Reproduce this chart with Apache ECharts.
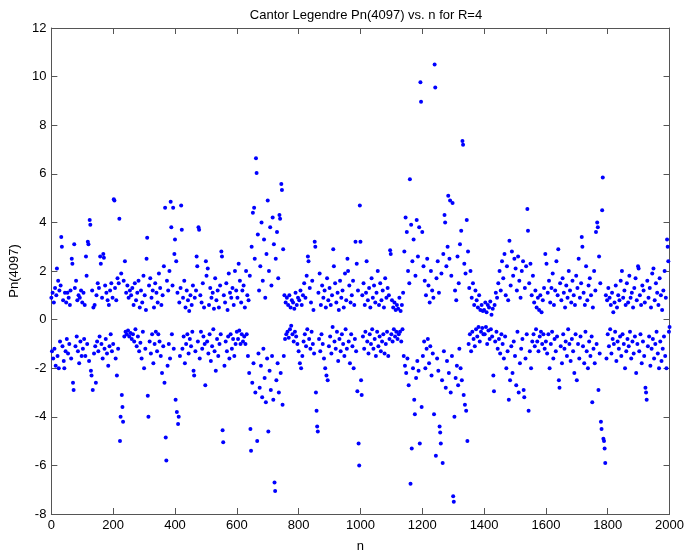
<!DOCTYPE html>
<html>
<head>
<meta charset="utf-8">
<script src="https://cdn.jsdelivr.net/npm/echarts@6/dist/echarts.min.js"></script>
<style>
  html, body { margin: 0; padding: 0; background: #fff; }
  #chart { width: 687px; height: 558px; }
</style>
</head>
<body>
<div id="chart"></div>
<script>
// Pn(4097) sampled every second n, stored in blocks of 200 n each
const blockStart = [0, 200, 400, 600, 800, 1000, 1200, 1400, 1600, 1800];
const nStep = 2;

const pnBlock0 = [
  0.9, -1.3, 1.1, -1.6, 0.7, -1.2, 1.3, -1.9, 1.0, 2.1,
  -1.5, 1.6, -2.0, 1.2, -0.9, 1.4, 3.4, 3.0, -1.1, 0.8,
  -1.7, -2.0, 1.1, -1.3, 0.7, -0.8, 1.1, -1.4, 0.9, -1.0,
  0.6, 1.2, -1.6, 2.5, 2.3, -2.6, -2.9, 3.1, 1.3, -1.1,
  1.6, -0.7, 0.8, -1.3, 1.0, -1.8, 0.9, -0.9, 1.2, -1.5,
  0.7, -1.2, 1.1, -0.8, 0.6, -1.5, 2.6, 1.8, -1.0, 3.2,
  3.1, -1.7, 4.1, 3.9, -2.1, -2.3, 1.2, -2.9, 0.5, -1.4,
  0.6, -1.1, -2.6, 1.0, -0.9, 1.5, -1.3, 1.3, -0.7, 2.6,
  2.3, -1.0, 0.9, -1.6, 2.7, 2.55, -1.2, 1.4, -0.8, 1.1,
  -1.4, 0.8, -1.9, 0.6, -1.1, 1.2, -0.6, 1.5, -1.3, 0.9
];
const pnBlock1 = [
  -1.0, 4.95, 4.9, 1.3, -1.6, 0.8, -2.3, 1.7, -1.2, 1.5,
  4.15, -5.0, -4.0, 1.9, -3.1, -3.6, -4.2, 1.6, -0.7, 2.4,
  -0.5, 1.1, -0.6, 1.4, -0.45, 0.9, -0.7, 1.2, -0.55, 1.0,
  -0.8, 1.3, -0.6, 0.6, -0.9, 1.5, -0.4, 0.8, -1.1, 1.1,
  -0.7, 1.6, -1.3, 0.5, -0.95, 1.2, -1.6, 0.7, -0.5, 1.8,
  -2.0, 1.0, -1.2, 0.4, 2.5, 3.37, -3.13, -4.0, 1.4, -0.9,
  1.7, -1.4, 0.9, -0.6, 1.2, -1.8, 0.5, -1.0, 1.5, -0.5,
  1.1, -1.3, 0.7, -0.6, 1.9, -0.9, 1.3, -1.5, 0.6, -2.2,
  1.0, -1.1, 2.2, -2.6, 4.6, -4.85, -5.8, 1.6, -1.9, 1.2,
  -1.0, 2.0, -1.6, 4.85, 3.8, -0.6, 1.4, 4.6, -1.2, 2.7
];
const pnBlock2 = [
  3.3, -3.3, 2.4, -3.8, 1.1, -4.3, -4.0, 0.7, -1.5, 1.3,
  4.7, 3.7, -1.2, 0.9, -0.7, 1.6, -1.8, 0.5, -1.0, 1.2,
  -0.6, 0.8, -1.4, 0.35, -0.8, 1.0, -1.1, 0.6, -0.5, 1.4,
  -2.1, -2.3, 0.9, -1.3, 1.2, 2.6, 2.2, -0.9, 3.8, 3.7,
  -1.6, 1.0, -0.5, 0.7, -1.2, 1.5, -0.7, 0.5, -1.0, -2.7,
  2.4, 1.8, -0.9, 2.1, -1.4, 0.6, -0.6, 1.3, -1.7, 0.9,
  -1.1, 1.1, -0.4, 0.45, -1.3, 1.7, -2.1, 0.8, -0.8, 1.2,
  -1.5, 0.5, -1.0, 1.4, -0.6, 2.8, 2.6, -4.55, -5.05, 1.0,
  -1.9, 0.7, -0.9, 1.5, -1.3, 0.4, -0.7, 1.9, -1.6, 1.1,
  -0.6, 0.9, -1.2, 1.3, -0.8, 0.6, -1.5, 2.0, -1.0, 1.2
];
const pnBlock3 = [
  -0.5, 0.9, -0.8, 2.3, -0.45, 1.6, -1.0, 0.7, -0.6, 1.2,
  -0.9, 1.4, -0.7, 0.5, -1.0, 2.0, -0.6, 1.0, -1.5, 0.8,
  -2.2, 1.8, -4.5, -5.4, 3.0, -2.6, 4.4, -1.8, 4.6, 2.5,
  -3.0, 6.64, 6.03, -5.0, 3.5, -1.4, 1.2, -2.8, 2.2, -1.9,
  4.0, -3.2, 1.6, -1.2, 3.3, -2.4, 0.9, -3.4, 2.7, -1.6,
  4.9, -4.6, 2.0, -2.1, 3.8, -2.9, 1.4, -1.5, 4.2, -3.3,
  3.1, -6.7, -7.05, 2.5, -2.5, 3.6, -1.8, 1.7, -3.0, 4.3,
  4.15, -2.2, 5.58, 5.33, -3.5, 2.9, -1.5, 1.0, -0.8, 0.7,
  -0.6, 0.9, -0.5, 0.6, -0.75, 1.0, -0.4, 0.5, -0.25, 0.8,
  -0.6, 0.7, -0.9, 0.45, -0.5, 1.1, -0.7, 0.6, -1.0, 0.9
];
const pnBlock4 = [
  -1.3, 0.8, -1.8, 1.2, -2.0, 0.6, -1.5, 1.0, -0.9, 1.5,
  -0.6, 0.9, -1.1, 1.8, -0.4, 2.6, 2.4, -0.8, 1.3, -1.2,
  0.7, -0.5, 1.6, -1.0, 0.4, -1.4, 3.2, 3.0, -3.0, -3.75,
  -4.4, -4.6, 1.1, -0.8, 1.9, -1.3, 0.6, -0.6, 1.4, -1.0,
  0.9, -1.6, 1.2, -2.0, 0.5, -2.3, 1.7, -2.5, 0.8, -1.1,
  1.3, -0.7, 0.6, -1.4, 1.0, -0.3, 2.9, 2.2, -0.9, 1.5,
  -1.2, 0.7, -0.5, 1.1, -1.7, 0.4, -0.8, 1.6, -1.3, 0.9,
  -0.6, 1.2, -1.0, 0.5, -1.5, 1.9, -0.4, 0.8, -1.2, 2.5,
  2.0, -0.9, 1.4, -1.8, 0.7, -0.6, 1.0, -1.1, 1.6, -2.0,
  0.6, -0.8, 3.2, -1.3, 2.3, -2.95, 1.2, -5.1, -6.0, 4.7
];
const pnBlock5 = [
  3.2, -2.5, -3.1, 1.0, -0.7, 1.5, -1.2, 0.6, -0.5, 1.1,
  2.4, -0.9, 0.8, -1.4, 1.3, -0.6, 0.5, -1.0, 1.7, -0.4,
  0.9, -1.2, 1.4, -0.8, 0.7, -1.5, 1.1, -0.5, 2.0, -1.1,
  0.6, -0.7, 1.5, -1.3, 0.8, -0.9, 1.2, -0.6, 0.5, -1.4,
  1.7, -1.0, 0.9, -0.5, 1.3, -1.5, 1.0, -0.8, 2.85, 2.7,
  -0.6, 0.8, -0.9, 0.5, -0.4, 0.7, -0.7, 0.4, -0.5, 0.6,
  -0.8, 0.45, -0.6, 0.9, -0.5, 0.35, -0.9, 0.6, -0.4, 1.1,
  -1.5, 2.8, -1.9, 4.2, -2.2, 3.6, -1.6, 2.0, -2.7, 1.5,
  5.78, -6.75, 3.9, -5.3, 2.4, -2.0, 3.3, -3.3, -3.9, 1.8,
  -2.4, 4.1, -1.7, 2.6, -2.1, 3.8, -5.1, 9.77, 8.97, -3.6
];
const pnBlock6 = [
  3.6, -1.5, 2.2, -0.9, 1.6, -2.0, 1.0, -1.2, 2.5, -0.8,
  1.4, -1.8, 0.7, -1.1, 2.0, -2.3, 1.2, -1.4, 0.9, -3.9,
  10.5, 9.55, -5.6, 1.7, -1.6, 2.4, -2.1, 1.1, -4.4, -4.65,
  -5.1, 1.9, -2.5, -5.9, 2.7, -1.3, 4.3, 4.0, -2.8, 2.2,
  -1.7, 3.0, 5.1, -2.2, 2.5, 4.9, -3.0, 1.8, -1.5, 4.8,
  -7.27, -7.5, -4.0, 1.2, -2.4, 0.8, -1.9, 2.6, -2.7, 1.5,
  -1.2, 3.1, -2.0, 3.66, -2.5, 7.35, 7.2, -3.1, 2.3, -3.5,
  1.9, -3.75, 4.1, -5.0, 2.8, -1.0, 1.3, -0.6, 2.0, -1.3,
  0.9, -0.5, 1.5, -0.8, 0.6, -1.1, 1.2, -0.4, 0.8, -0.7,
  0.5, -0.3, 1.0, -0.9, 0.4, -0.5, 0.6, -0.35, 0.35, -0.6
];
const pnBlock7 = [
  0.4, -0.6, 0.7, -0.3, 0.3, -1.0, 0.6, -0.45, 0.5, -0.8,
  0.75, -0.4, 0.2, -0.7, 0.45, -2.3, -2.95, 0.6, -0.9, 1.1,
  -0.5, 0.9, -1.2, 1.5, -0.8, 2.0, -1.4, 1.2, -0.6, 2.4,
  -1.0, 1.7, -1.6, 2.7, -0.7, 1.0, -2.0, 2.2, -1.3, 0.8,
  -3.3, 3.25, -2.5, 1.4, -1.1, 2.8, -2.2, 1.8, -0.9, 2.5,
  -1.5, 2.1, -2.7, 1.2, -0.5, 2.6, -3.0, 1.6, -1.8, 0.9,
  -1.2, 2.0, -0.8, 2.4, -2.9, -3.2, 1.3, -1.6, 2.2, -0.6,
  4.55, 3.66, -3.75, 1.5, -1.3, 2.3, -2.0, 1.0, -0.9, 1.8,
  -0.6, 0.7, -1.1, 1.2, -0.4, 0.5, -0.9, 0.9, -1.3, 0.4,
  -0.7, 1.0, -0.5, 0.3, -1.0, 0.8, -0.6, 1.3, -1.2, 2.7
];
const pnBlock8 = [
  -0.9, 2.3, -1.4, 1.1, -0.6, 1.6, -2.0, 0.7, -1.0, 1.3,
  -0.5, 1.9, -1.6, 0.6, -0.8, 1.2, -1.3, 2.4, -0.7, 1.0,
  2.9, -2.5, -2.8, 1.5, -1.1, 0.8, -1.8, 1.7, -0.6, 1.1,
  -1.2, 0.5, -0.9, 1.4, -1.5, 0.9, -0.4, 2.0, -1.0, 1.2,
  -1.7, 0.7, -0.8, 1.6, -1.3, 1.0, -2.2, 0.6, -0.6, 1.8,
  -2.5, 1.3, -1.0, 2.5, -1.6, 0.9, -0.7, 1.5, 3.4, 3.0,
  -1.1, 1.1, -1.8, 0.6, -0.5, 2.2, -1.3, 0.8, -2.0, 1.4,
  -0.9, 1.7, -1.5, 1.0, -0.7, -3.4, 0.5, -1.2, 2.0, -1.8,
  1.2, 3.6, -1.0, 4.0, 3.8, -2.9, 2.6, -1.4, 1.5, -4.2,
  -4.5, 4.5, 5.85, -4.9, -5.0, -5.3, -5.9, 1.0, -1.6, 0.8
];
const pnBlock9 = [
  -0.6, 1.3, -1.1, 0.9, -0.4, 0.6, -1.4, 1.1, -0.8, 0.3,
  -1.0, 0.7, -0.5, 1.4, -1.7, 0.5, -0.9, 1.0, -1.2, 0.8,
  -0.7, 1.6, -1.5, 2.0, -0.6, 0.9, -1.0, 1.2, -2.0, 0.6,
  -1.3, 1.5, -0.8, 0.7, -1.1, 1.8, -0.5, 0.9, -1.6, 1.1,
  -0.9, 0.5, -1.4, 1.3, -0.7, 1.7, -2.2, 0.8, -1.0, 2.2,
  2.1, -1.3, 1.0, -0.6, 0.6, -1.8, 1.4, -0.9, 1.2, -1.5,
  0.7, -2.8, -3.0, -3.3, 1.6, -1.1, 0.9, -0.7, 1.3, -1.9,
  0.5, -1.2, 1.9, -0.8, 2.1, -1.6, 0.8, -1.0, 1.5, -0.5,
  1.1, -1.4, 0.6, -2.0, 1.7, -0.9, 1.0, -1.7, 0.4, -1.2,
  1.2, -0.7, 2.0, -1.5, 0.9, -2.0, 3.3, 3.0, 2.4, -0.5,
  -0.3
];

const pnBlocks = [pnBlock0, pnBlock1, pnBlock2, pnBlock3, pnBlock4,
                  pnBlock5, pnBlock6, pnBlock7, pnBlock8, pnBlock9];

const xTicks = { min: 0, max: 2000, interval: 200 };
const yTicks = { min: -8, max: 12, interval: 2 };

const points = [];
pnBlocks.forEach((block, b) => {
  block.forEach((v, i) => points.push([blockStart[b] + nStep * i, v]));
});

const FONT = 'Liberation Sans, Arial, sans-serif';
const AXIS_COLOR = '#555555';
const LABEL = { color: '#000', fontFamily: FONT, fontSize: 13 };
const plain = v => String(v);

function frameAxis(pos, ticks, showLabel, extra) {
  return Object.assign({
    type: 'value',
    position: pos,
    min: ticks.min, max: ticks.max, interval: ticks.interval,
    axisLine: { show: true, onZero: false, lineStyle: { color: AXIS_COLOR, width: 1 } },
    axisTick: { show: true, inside: true, length: 6, lineStyle: { color: AXIS_COLOR } },
    axisLabel: Object.assign({ show: showLabel, formatter: plain }, LABEL),
    splitLine: { show: false }
  }, extra || {});
}

const chart = echarts.init(document.getElementById('chart'), null, { renderer: 'canvas' });
chart.setOption({
  animation: false,
  backgroundColor: '#ffffff',
  title: {
    text: 'Cantor Legendre Pn(4097) vs. n for R=4',
    left: 361, top: 4, textAlign: 'center',
    textStyle: { fontFamily: FONT, fontSize: 13, fontWeight: 'normal', color: '#000' }
  },
  grid: { left: 50, right: 16, top: 28, bottom: 41, containLabel: false },
  xAxis: [
    frameAxis('bottom', xTicks, true, {
      name: 'n', nameLocation: 'middle', nameGap: 26,
      nameTextStyle: LABEL,
      axisLabel: Object.assign({ show: true, margin: 5, formatter: plain }, LABEL)
    }),
    frameAxis('top', xTicks, false)
  ],
  yAxis: [
    frameAxis('left', yTicks, true, {
      name: 'Pn(4097)', nameLocation: 'middle', nameGap: 27, nameRotate: 90,
      nameTextStyle: LABEL,
      axisLabel: Object.assign({ show: true, margin: 5, formatter: plain }, LABEL)
    }),
    frameAxis('right', yTicks, false)
  ],
  series: [{
    type: 'scatter',
    xAxisIndex: 0,
    yAxisIndex: 0,
    data: points,
    symbol: 'circle',
    symbolSize: 4,
    itemStyle: { color: '#0000ff', opacity: 1 },
    silent: true
  }]
});
</script>
</body>
</html>
